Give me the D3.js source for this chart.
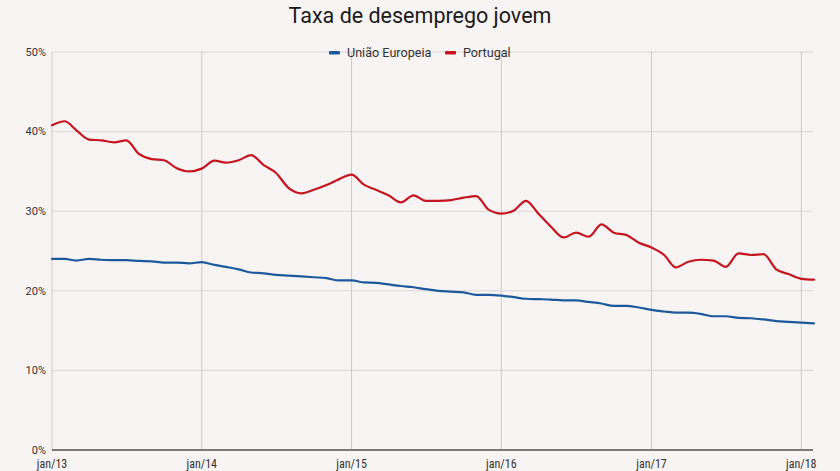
<!DOCTYPE html>
<html><head><meta charset="utf-8">
<script src="https://cdn.jsdelivr.net/npm/d3@7/dist/d3.min.js"></script>
<style>
body{margin:0;background:#f9f4f4;}
svg{display:block;}
</style></head>
<body><svg id="c" width="840" height="471"></svg>
<script>
const title = "Taxa de desemprego jovem";
const seriesNames = ["União Europeia", "Portugal"];
const seriesColors = ["#1c5a9c", "#c5141e"];
const startMonth = "2013-01";
const uniaoEuropeia = [24.0,24.0,23.8,24.0,23.9,23.85,23.85,23.75,23.7,23.55,23.55,23.45,
  23.6,23.25,23.0,22.7,22.3,22.2,22.0,21.9,21.8,21.7,21.6,21.3,
  21.3,21.05,21.0,20.8,20.6,20.45,20.2,20.0,19.9,19.8,19.5,19.5,
  19.4,19.2,19.0,18.95,18.9,18.8,18.8,18.6,18.4,18.1,18.1,17.9,
  17.6,17.4,17.25,17.25,17.1,16.8,16.8,16.6,16.55,16.4,16.2,16.1,
  16.0,15.9];
const portugal = [40.8,41.3,40.2,39.0,38.9,38.65,38.9,37.2,36.55,36.4,35.4,35.0,
  35.35,36.35,36.1,36.4,37.05,35.8,34.8,32.9,32.25,32.7,33.3,34.0,
  34.6,33.3,32.7,32.0,31.1,32.0,31.3,31.3,31.4,31.7,31.9,30.2,
  29.7,30.1,31.3,29.65,28.05,26.7,27.3,26.8,28.35,27.3,27.0,26.05,
  25.45,24.5,22.95,23.65,23.9,23.8,23.0,24.7,24.5,24.6,22.7,22.1,
  21.5,21.4];
const yTicks = [0,10,20,30,40,50];
const xTickLabels = ["jan/13","jan/14","jan/15","jan/16","jan/17","jan/18"];

const svg = d3.select("#c");
const m = {l:52, r:814, t:52, b:450};
const parse = d3.timeParse("%Y-%m");
const t0 = parse(startMonth);
const dates = portugal.map((_, i) => d3.timeMonth.offset(t0, i));
const x = d3.scaleTime().domain([t0, dates[dates.length-1]]).range([m.l, m.r]);
const y = d3.scaleLinear().domain([0,50]).range([m.b, m.t]);
const xTickDates = xTickLabels.map((_, i) => d3.timeYear.offset(t0, i));

svg.append("g").selectAll("line").data(yTicks.filter(d=>d>0)).join("line")
  .attr("x1", m.l).attr("x2", m.r-1).attr("y1", d=>y(d)).attr("y2", d=>y(d))
  .attr("stroke", "#dcd5d5").attr("stroke-width", 1);
svg.append("g").selectAll("line").data(xTickDates).join("line")
  .attr("x1", d=>x(d)).attr("x2", d=>x(d)).attr("y1", m.t).attr("y2", m.b)
  .attr("stroke", "#cfc8c8").attr("stroke-width", 1);
svg.append("line").attr("x1", m.l).attr("x2", m.r-1).attr("y1", y(0)).attr("y2", y(0))
  .attr("stroke", "#7a7a7a").attr("stroke-width", 2);

svg.append("g").selectAll("text").data(yTicks).join("text")
  .attr("x", 46).attr("y", d=>y(d)).attr("dy", "0.35em").attr("text-anchor","end")
  .attr("font-family", "Roboto, sans-serif").attr("font-size", 11).attr("fill", "#333")
  .text(d => d + "%");
svg.append("g").selectAll("text").data(xTickDates).join("text")
  .attr("x", d=>x(d)).attr("y", 468).attr("text-anchor","middle")
  .attr("font-family", "'Roboto Condensed','Liberation Sans Narrow','DejaVu Sans Condensed',Roboto,sans-serif")
  .attr("font-size", 12).attr("fill", "#333")
  .text((d,i) => xTickLabels[i]);

const line = d3.line().x((d,i)=>x(dates[i])).y(d=>y(d)).curve(d3.curveMonotoneX);
[uniaoEuropeia, portugal].forEach((s, k) => {
  svg.append("path").attr("d", line(s)).attr("fill","none")
    .attr("stroke", seriesColors[k]).attr("stroke-width", 2.2)
    .attr("stroke-linejoin","round").attr("stroke-linecap","round");
});

svg.append("text").attr("x", 420).attr("y", 23).attr("text-anchor","middle")
  .attr("font-family","Roboto, sans-serif").attr("font-size", 21.5).attr("fill","#1a1a1a")
  .text(title);

const lg = svg.append("g").attr("font-family","Roboto, sans-serif").attr("font-size", 12.6).attr("fill","#333");
const legendX = [329, 445];
seriesNames.forEach((n, k) => {
  lg.append("rect").attr("x", legendX[k]).attr("y", 51).attr("width", 11).attr("height", 3.5)
    .attr("rx", 1).attr("fill", seriesColors[k]);
  lg.append("text").attr("x", legendX[k] + 18).attr("y", 57).text(n);
});
</script></body></html>
